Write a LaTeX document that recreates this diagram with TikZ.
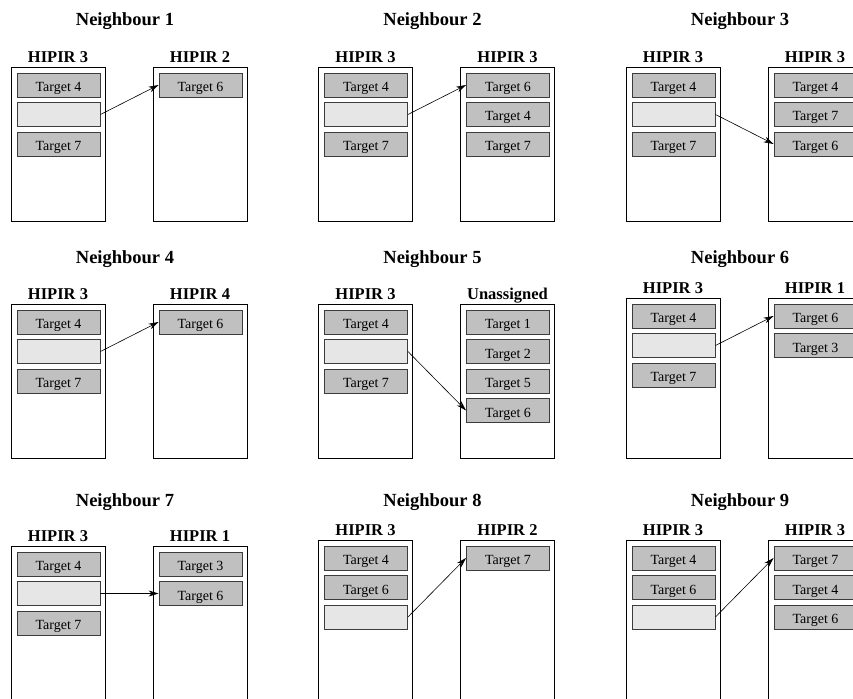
\documentclass[tikz,border=0pt]{standalone}
\usepackage{fontspec}
\setmainfont{Liberation Serif}
\usetikzlibrary{arrows.meta}
\definecolor{SlotGray}{RGB}{192, 192, 192}
\definecolor{FreeGray}{RGB}{230, 230, 230}
\definecolor{EdgeGray}{RGB}{60, 60, 60}

\begin{document}
\begin{tikzpicture}[x=1pt, y=-1pt,
    bin/.style={draw, line width=0.8pt, minimum width=94pt, minimum height=154pt, inner sep=0pt},
    tallbin/.style={bin, minimum height=170pt},
    slot/.style={draw=EdgeGray, line width=0.9pt, fill=SlotGray, minimum width=83pt, minimum height=24pt, inner sep=0pt, text height=13pt, text depth=0pt, font=\fontsize{14}{16}\selectfont},
    freeslot/.style={slot, fill=FreeGray},
    binlabel/.style={anchor=base, inner sep=0pt, font=\fontsize{16.5}{20}\selectfont\bfseries},
    paneltitle/.style={anchor=base, inner sep=0pt, font=\fontsize{18.5}{22}\selectfont\bfseries},
    move/.style={-{Stealth[length=10pt, width=6pt]}, line width=0.6pt}]
    \clip (0,0) rectangle (853,698);

    % titles
    \node[paneltitle] (t1) at (125,26) {Neighbour 1};
    \node[paneltitle] (t2) at (432.5,26) {Neighbour 2};
    \node[paneltitle] (t3) at (740,26) {Neighbour 3};
    \node[paneltitle] (t4) at (125,263) {Neighbour 4};
    \node[paneltitle] (t5) at (432.5,263) {Neighbour 5};
    \node[paneltitle] (t6) at (740,263) {Neighbour 6};
    \node[paneltitle] (t7) at (125,506) {Neighbour 7};
    \node[paneltitle] (t8) at (432.5,506) {Neighbour 8};
    \node[paneltitle] (t9) at (740,506) {Neighbour 9};

    % Neighbour 1
    \begin{scope}[shift={(11,67)}]
        \node[bin] (p1l) at (47,77) {};
        \node[bin] (p1r) at (189,77) {};
        \node[binlabel] (p1lt) at (47,-4.5) {HIPIR 3};
        \node[binlabel] (p1rt) at (189,-4.5) {HIPIR 2};
        \node[slot] (p1a) at (47.5,18) {Target 4};
        \node[freeslot] (p1b) at (47.5,47.5) {};
        \node[slot] (p1c) at (47.5,77) {Target 7};
        \node[slot] (p1x) at (189.5,18) {Target 6};
        \draw[move] (p1b.east) -- (p1x.west);
    \end{scope}

    % Neighbour 2
    \begin{scope}[shift={(318.5,67)}]
        \node[bin] (p2l) at (47,77) {};
        \node[bin] (p2r) at (189,77) {};
        \node[binlabel] (p2lt) at (47,-4.5) {HIPIR 3};
        \node[binlabel] (p2rt) at (189,-4.5) {HIPIR 3};
        \node[slot] (p2a) at (47.5,18) {Target 4};
        \node[freeslot] (p2b) at (47.5,47.5) {};
        \node[slot] (p2c) at (47.5,77) {Target 7};
        \node[slot] (p2x) at (189.5,18) {Target 6};
        \node[slot] (p2y) at (189.5,47.5) {Target 4};
        \node[slot] (p2z) at (189.5,77) {Target 7};
        \draw[move] (p2b.east) -- (p2x.west);
    \end{scope}

    % Neighbour 3
    \begin{scope}[shift={(626,67)}]
        \node[bin] (p3l) at (47,77) {};
        \node[bin] (p3r) at (189,77) {};
        \node[binlabel] (p3lt) at (47,-4.5) {HIPIR 3};
        \node[binlabel] (p3rt) at (189,-4.5) {HIPIR 3};
        \node[slot] (p3a) at (47.5,18) {Target 4};
        \node[freeslot] (p3b) at (47.5,47.5) {};
        \node[slot] (p3c) at (47.5,77) {Target 7};
        \node[slot] (p3x) at (189.5,18) {Target 4};
        \node[slot] (p3y) at (189.5,47.5) {Target 7};
        \node[slot] (p3z) at (189.5,77) {Target 6};
        \draw[move] (p3b.east) -- (p3z.west);
    \end{scope}

    % Neighbour 4
    \begin{scope}[shift={(11,304)}]
        \node[bin] (p4l) at (47,77) {};
        \node[bin] (p4r) at (189,77) {};
        \node[binlabel] (p4lt) at (47,-4.5) {HIPIR 3};
        \node[binlabel] (p4rt) at (189,-4.5) {HIPIR 4};
        \node[slot] (p4a) at (47.5,18) {Target 4};
        \node[freeslot] (p4b) at (47.5,47.5) {};
        \node[slot] (p4c) at (47.5,77) {Target 7};
        \node[slot] (p4x) at (189.5,18) {Target 6};
        \draw[move] (p4b.east) -- (p4x.west);
    \end{scope}

    % Neighbour 5
    \begin{scope}[shift={(318.5,304)}]
        \node[bin] (p5l) at (47,77) {};
        \node[bin] (p5r) at (189,77) {};
        \node[binlabel] (p5lt) at (47,-4.5) {HIPIR 3};
        \node[binlabel] (p5rt) at (189,-4.5) {Unassigned};
        \node[slot] (p5a) at (47.5,18) {Target 4};
        \node[freeslot] (p5b) at (47.5,47.5) {};
        \node[slot] (p5c) at (47.5,77) {Target 7};
        \node[slot] (p5w) at (189.5,18) {Target 1};
        \node[slot] (p5x) at (189.5,47.5) {Target 2};
        \node[slot] (p5y) at (189.5,77) {Target 5};
        \node[slot] (p5z) at (189.5,106.5) {Target 6};
        \draw[move] (p5b.east) -- (p5z.west);
    \end{scope}

    % Neighbour 6
    \begin{scope}[shift={(626,298)}]
        \node[bin, minimum height=160pt] (p6l) at (47,80) {};
        \node[bin, minimum height=160pt] (p6r) at (189,80) {};
        \node[binlabel] (p6lt) at (47,-5) {HIPIR 3};
        \node[binlabel] (p6rt) at (189,-5) {HIPIR 1};
        \node[slot] (p6a) at (47.5,18) {Target 4};
        \node[freeslot] (p6b) at (47.5,47.5) {};
        \node[slot] (p6c) at (47.5,77) {Target 7};
        \node[slot] (p6x) at (189.5,18) {Target 6};
        \node[slot] (p6y) at (189.5,47.5) {Target 3};
        \draw[move] (p6b.east) -- (p6x.west);
    \end{scope}

    % Neighbour 7
    \begin{scope}[shift={(11,546)}]
        \node[tallbin] (p7l) at (47,85) {};
        \node[tallbin] (p7r) at (189,85) {};
        \node[binlabel] (p7lt) at (47,-5) {HIPIR 3};
        \node[binlabel] (p7rt) at (189,-5) {HIPIR 1};
        \node[slot] (p7a) at (47.5,18) {Target 4};
        \node[freeslot] (p7b) at (47.5,47.5) {};
        \node[slot] (p7c) at (47.5,77) {Target 7};
        \node[slot] (p7x) at (189.5,18) {Target 3};
        \node[slot] (p7y) at (189.5,47.5) {Target 6};
        \draw[move] (p7b.east) -- (p7y.west);
    \end{scope}

    % Neighbour 8
    \begin{scope}[shift={(318.5,540)}]
        \node[tallbin] (p8l) at (47,85) {};
        \node[tallbin] (p8r) at (189,85) {};
        \node[binlabel] (p8lt) at (47,-5) {HIPIR 3};
        \node[binlabel] (p8rt) at (189,-5) {HIPIR 2};
        \node[slot] (p8a) at (47.5,18) {Target 4};
        \node[slot] (p8b) at (47.5,47.5) {Target 6};
        \node[freeslot] (p8c) at (47.5,77) {};
        \node[slot] (p8x) at (189.5,18) {Target 7};
        \draw[move] (p8c.east) -- (p8x.west);
    \end{scope}

    % Neighbour 9
    \begin{scope}[shift={(626,540)}]
        \node[tallbin] (p9l) at (47,85) {};
        \node[tallbin] (p9r) at (189,85) {};
        \node[binlabel] (p9lt) at (47,-5) {HIPIR 3};
        \node[binlabel] (p9rt) at (189,-5) {HIPIR 3};
        \node[slot] (p9a) at (47.5,18) {Target 4};
        \node[slot] (p9b) at (47.5,47.5) {Target 6};
        \node[freeslot] (p9c) at (47.5,77) {};
        \node[slot] (p9x) at (189.5,18) {Target 7};
        \node[slot] (p9y) at (189.5,47.5) {Target 4};
        \node[slot] (p9z) at (189.5,77) {Target 6};
        \draw[move] (p9c.east) -- (p9x.west);
    \end{scope}
\end{tikzpicture}
\end{document}
